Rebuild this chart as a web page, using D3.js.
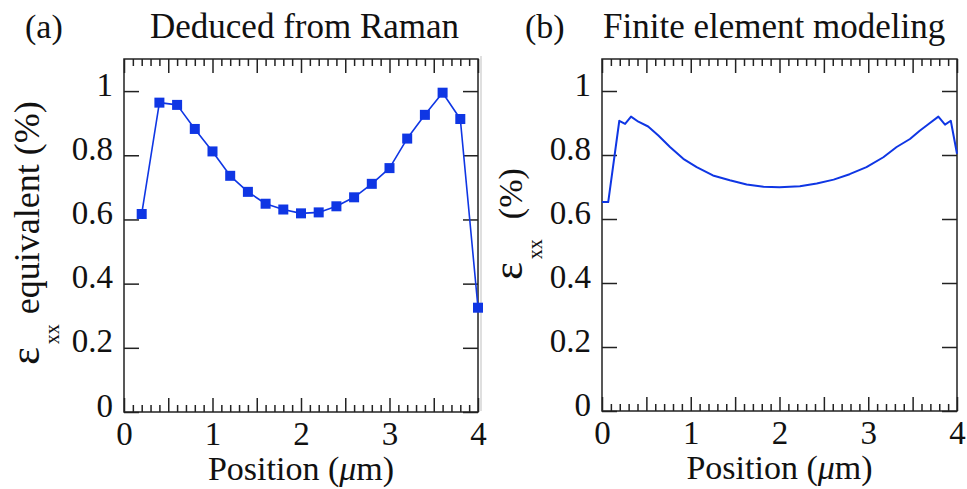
<!DOCTYPE html>
<html>
<head>
<meta charset="utf-8">
<script src="https://cdn.jsdelivr.net/npm/d3@7"></script>
<style>
  body { margin: 0; background: #fff; }
</style>
</head>
<body>
<div class="canvas"></div>
<script>
// data
const ramanX = [0.2, 0.4, 0.6, 0.8, 1.0, 1.2, 1.4, 1.6, 1.8, 2.0, 2.2, 2.4, 2.6, 2.8, 3.0, 3.2, 3.4, 3.6, 3.8, 4.0];
const ramanY = [0.617, 0.964, 0.957, 0.882, 0.812, 0.736, 0.686, 0.649, 0.631, 0.619, 0.622, 0.641, 0.669, 0.711, 0.760, 0.852, 0.926, 0.995, 0.913, 0.325];

const femX = [0, 0.07, 0.195, 0.26, 0.327, 0.41, 0.52, 0.635, 0.766, 0.916, 1.067, 1.25, 1.44, 1.63, 1.82, 2.0,
              2.23, 2.42, 2.61, 2.79, 2.98, 3.17, 3.32, 3.47, 3.58, 3.68, 3.79, 3.865, 3.93, 4.0];
const femY = [0.653, 0.653, 0.907, 0.897, 0.920, 0.904, 0.889, 0.861, 0.825, 0.788, 0.762, 0.736, 0.721, 0.708, 0.701, 0.699,
              0.702, 0.711, 0.723, 0.740, 0.762, 0.793, 0.825, 0.850, 0.876, 0.897, 0.920, 0.895, 0.907, 0.804];

const xTickLabels = [0, 1, 2, 3, 4];
const yTickLabels = [0, 0.2, 0.4, 0.6, 0.8, 1];

const blue = "#0f36e4";
const serif = "'Liberation Serif', 'Times New Roman', Times, Tinos, 'DejaVu Serif', serif";

const svg = d3.select(".canvas").append("svg")
    .attr("width", 967)
    .attr("height", 489)
    .style("font-family", serif);

// faint crop line between the two panels
svg.append("line")
    .attr("x1", 481).attr("x2", 481)
    .attr("y1", 56).attr("y2", 411)
    .attr("stroke", "#d4d4d4").attr("stroke-width", 1.5);

const drawPanel = (p) => {
  const w = p.right - p.left;
  const h = p.bottom - p.top;
  const g = svg.append("g").attr("transform", "translate(" + p.left + "," + p.top + ")");

  const x = d3.scaleLinear().domain([0, 4]).range([0, w]);
  const y = d3.scaleLinear().domain([0, 1.1]).range([h, 0]);

  const all = d3.range(0, 41).map(i => i / 10);
  const major = all.filter((d, i) => i % 5 === 0);
  const minor = all.filter((d, i) => i % 5 !== 0);

  const style = sel => {
    sel.select(".domain").remove();
    sel.selectAll("line").attr("stroke", "#222").attr("stroke-width", 1.5);
    sel.attr("font-size", null).attr("font-family", null);
    sel.selectAll("text").style("font-family", serif).attr("fill", "#111");
  };

  // bottom
  g.append("g").attr("transform", "translate(0," + h + ")")
    .call(d3.axisBottom(x).tickValues(minor).tickSize(-7).tickFormat(""))
    .call(style);
  g.append("g").attr("transform", "translate(0," + h + ")")
    .call(d3.axisBottom(x).tickValues(major).tickSize(-14)
      .tickFormat(d => xTickLabels.includes(d) ? d : ""))
    .call(style)
    .selectAll("text")
      .attr("y", 33).attr("dy", null)
      .style("font-size", "33px");
  // top
  g.append("g")
    .call(d3.axisTop(x).tickValues(minor).tickSize(-7).tickFormat(""))
    .call(style);
  g.append("g")
    .call(d3.axisTop(x).tickValues(major).tickSize(-14).tickFormat(""))
    .call(style);
  // left
  g.append("g")
    .call(d3.axisLeft(y).tickValues(yTickLabels).tickSize(-15).tickFormat(d => d))
    .call(style)
    .selectAll("text")
      .attr("x", -11).attr("dy", 4)
      .style("font-size", "33px");
  // right
  g.append("g").attr("transform", "translate(" + w + ",0)")
    .call(d3.axisRight(y).tickValues(yTickLabels).tickSize(-15).tickFormat(""))
    .call(style);

  // frame
  g.append("rect")
    .attr("width", w).attr("height", h)
    .attr("fill", "none").attr("stroke", "#222").attr("stroke-width", 1.5);

  const pts = p.xs.map((d, i) => [d, p.ys[i]]);
  const line = d3.line().x(d => x(d[0])).y(d => y(d[1]));

  g.append("path")
    .datum(pts)
    .attr("fill", "none")
    .attr("stroke", blue)
    .attr("stroke-width", p.markers ? 1.6 : 2)
    .attr("stroke-linejoin", "round")
    .attr("d", line);

  if (p.markers) {
    g.selectAll(".pt").data(pts).enter().append("rect")
      .attr("class", "pt")
      .attr("x", d => x(d[0]) - 5)
      .attr("y", d => y(d[1]) - 5)
      .attr("width", 10).attr("height", 10)
      .attr("fill", blue);
  }

  // x axis title
  const xt = g.append("text")
    .attr("x", w / 2).attr("y", h + 68)
    .attr("text-anchor", "middle")
    .attr("fill", "#111")
    .style("font-size", "34px");
  xt.append("tspan").text("Position (");
  xt.append("tspan").style("font-style", "italic").text("μ");
  xt.append("tspan").text("m)");

  // y axis title (absolute position)
  const yt = svg.append("text")
    .attr("transform", "translate(" + p.yTitleX + "," + p.yTitleY + ") rotate(-90)")
    .attr("text-anchor", "middle")
    .attr("fill", "#111")
    .style("font-size", p.yTitleSize + "px");
  yt.append("tspan").style("font-size", "42px").text("ε");
  yt.append("tspan").style("font-size", "20px").attr("dy", 20).attr("dx", 3).text("xx");
  yt.append("tspan").attr("dy", -20).attr("dx", p.yTitleGap).text(p.yTitle);

  // panel title
  svg.append("text")
    .attr("x", p.tagX).attr("y", 38)
    .attr("fill", "#111")
    .style("font-size", "34px")
    .text(p.tag);
  svg.append("text")
    .attr("x", p.titleX).attr("y", 38)
    .attr("fill", "#111")
    .style("font-size", "35px")
    .text(p.title);
};

drawPanel({
  left: 124, right: 478, top: 59, bottom: 412,
  xs: ramanX, ys: ramanY, markers: true,
  tag: "(a)", tagX: 25, title: "Deduced from Raman", titleX: 150,
  yTitle: "equivalent (%)", yTitleSize: 36, yTitleGap: 10,
  yTitleX: 39, yTitleY: 233
});

drawPanel({
  left: 602, right: 957, top: 59, bottom: 411,
  xs: femX, ys: femY, markers: false,
  tag: "(b)", tagX: 525, title: "Finite element modeling", titleX: 603,
  yTitle: "(%)", yTitleSize: 34, yTitleGap: 20,
  yTitleX: 522, yTitleY: 224
});
</script>
</body>
</html>
